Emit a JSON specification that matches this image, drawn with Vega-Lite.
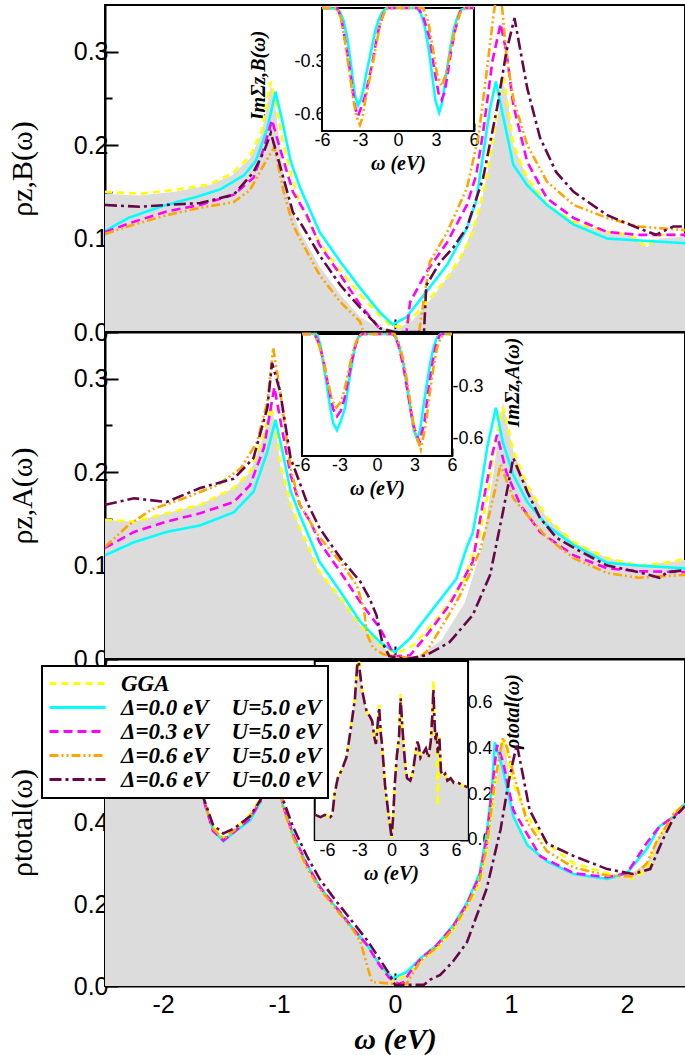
{
"$schema": "https://vega.github.io/schema/vega-lite/v6.json",
"background": "white",
"padding": {"left": 6, "top": 1, "right": 0, "bottom": 0},
"bounds": "flush",
"spacing": 0,
"config": {
  "view": {"stroke": "black", "strokeWidth": 2},
  "axis": {"grid": false, "labelColor": "black", "tickColor": "black", "domainColor": "black", "titleColor": "black", "labelFont": "Liberation Sans", "labelFlush": false, "labelOverlap": false, "labelBound": false, "zindex": 1, "tickWidth": 2, "domainWidth": 2},
  "legend": {"strokeWidth": 2}
},
"datasets": {
"zB": [
{"s":"f","w":-2.5,"r":0.148},{"s":"f","w":-2.2,"r":0.146},{"s":"f","w":-1.9,"r":0.150},{"s":"f","w":-1.6,"r":0.157},{"s":"f","w":-1.4,"r":0.168},{"s":"f","w":-1.25,"r":0.186},{"s":"f","w":-1.15,"r":0.212},{"s":"f","w":-1.1,"r":0.245},{"s":"f","w":-1.07,"r":0.265},{"s":"f","w":-1.03,"r":0.240},{"s":"f","w":-0.97,"r":0.175},{"s":"f","w":-0.9,"r":0.135},{"s":"f","w":-0.82,"r":0.108},{"s":"f","w":-0.65,"r":0.070},{"s":"f","w":-0.47,"r":0.040},{"s":"f","w":-0.3,"r":0.016},{"s":"f","w":-0.13,"r":0.004},{"s":"f","w":0,"r":0.003},{"s":"f","w":0.15,"r":0.012},{"s":"f","w":0.33,"r":0.038},{"s":"f","w":0.56,"r":0.077},{"s":"f","w":0.73,"r":0.130},{"s":"f","w":0.86,"r":0.210},{"s":"f","w":0.93,"r":0.268},{"s":"f","w":0.97,"r":0.250},{"s":"f","w":1.02,"r":0.200},{"s":"f","w":1.14,"r":0.165},{"s":"f","w":1.31,"r":0.136},{"s":"f","w":1.54,"r":0.118},{"s":"f","w":1.83,"r":0.106},{"s":"f","w":2.03,"r":0.103},{"s":"f","w":2.17,"r":0.091},{"s":"f","w":2.28,"r":0.100},{"s":"f","w":2.5,"r":0.102},
{"s":"g","w":-2.5,"r":0.150},{"s":"g","w":-2.2,"r":0.148},{"s":"g","w":-1.9,"r":0.152},{"s":"g","w":-1.6,"r":0.158},{"s":"g","w":-1.4,"r":0.170},{"s":"g","w":-1.25,"r":0.188},{"s":"g","w":-1.15,"r":0.215},{"s":"g","w":-1.1,"r":0.250},{"s":"g","w":-1.07,"r":0.268},{"s":"g","w":-1.03,"r":0.245},{"s":"g","w":-0.97,"r":0.205},{"s":"g","w":-0.9,"r":0.170},{"s":"g","w":-0.82,"r":0.137},{"s":"g","w":-0.65,"r":0.096},{"s":"g","w":-0.5,"r":0.070},{"s":"g","w":-0.3,"r":0.040},{"s":"g","w":-0.15,"r":0.020},{"s":"g","w":-0.03,"r":0.006},{"s":"g","w":0.05,"r":0.006},{"s":"g","w":0.15,"r":0.015},{"s":"g","w":0.33,"r":0.040},{"s":"g","w":0.45,"r":0.058},{"s":"g","w":0.56,"r":0.079},{"s":"g","w":0.65,"r":0.100},{"s":"g","w":0.73,"r":0.133},{"s":"g","w":0.8,"r":0.170},{"s":"g","w":0.86,"r":0.220},{"s":"g","w":0.9,"r":0.255},{"s":"g","w":0.93,"r":0.275},{"s":"g","w":0.96,"r":0.255},{"s":"g","w":1.02,"r":0.200},{"s":"g","w":1.14,"r":0.165},{"s":"g","w":1.31,"r":0.136},{"s":"g","w":1.54,"r":0.118},{"s":"g","w":1.83,"r":0.107},{"s":"g","w":2.03,"r":0.104},{"s":"g","w":2.17,"r":0.091},{"s":"g","w":2.28,"r":0.104},{"s":"g","w":2.5,"r":0.104},
{"s":"c","w":-2.5,"r":0.108},{"s":"c","w":-2.3,"r":0.122},{"s":"c","w":-2.0,"r":0.135},{"s":"c","w":-1.7,"r":0.145},{"s":"c","w":-1.5,"r":0.153},{"s":"c","w":-1.3,"r":0.168},{"s":"c","w":-1.2,"r":0.183},{"s":"c","w":-1.1,"r":0.218},{"s":"c","w":-1.03,"r":0.257},{"s":"c","w":-0.97,"r":0.225},{"s":"c","w":-0.9,"r":0.183},{"s":"c","w":-0.82,"r":0.155},{"s":"c","w":-0.65,"r":0.107},{"s":"c","w":-0.47,"r":0.075},{"s":"c","w":-0.3,"r":0.047},{"s":"c","w":-0.13,"r":0.021},{"s":"c","w":-0.02,"r":0.008},{"s":"c","w":0.1,"r":0.016},{"s":"c","w":0.27,"r":0.043},{"s":"c","w":0.45,"r":0.072},{"s":"c","w":0.62,"r":0.111},{"s":"c","w":0.7,"r":0.140},{"s":"c","w":0.76,"r":0.190},{"s":"c","w":0.82,"r":0.240},{"s":"c","w":0.87,"r":0.268},{"s":"c","w":0.93,"r":0.232},{"s":"c","w":1.02,"r":0.179},{"s":"c","w":1.14,"r":0.157},{"s":"c","w":1.31,"r":0.136},{"s":"c","w":1.54,"r":0.115},{"s":"c","w":1.83,"r":0.100},{"s":"c","w":2.1,"r":0.098},{"s":"c","w":2.5,"r":0.095},
{"s":"m","w":-2.5,"r":0.107},{"s":"m","w":-2.25,"r":0.118},{"s":"m","w":-1.97,"r":0.129},{"s":"m","w":-1.68,"r":0.136},{"s":"m","w":-1.39,"r":0.147},{"s":"m","w":-1.22,"r":0.165},{"s":"m","w":-1.13,"r":0.197},{"s":"m","w":-1.06,"r":0.227},{"s":"m","w":-1.0,"r":0.200},{"s":"m","w":-0.88,"r":0.150},{"s":"m","w":-0.76,"r":0.125},{"s":"m","w":-0.65,"r":0.093},{"s":"m","w":-0.47,"r":0.061},{"s":"m","w":-0.3,"r":0.029},{"s":"m","w":-0.16,"r":0.008},{"s":"m","w":-0.05,"r":-0.01},{"s":"m","w":0.05,"r":-0.02},{"s":"m","w":0.09,"r":-0.01},{"s":"m","w":0.13,"r":0.032},{"s":"m","w":0.27,"r":0.064},{"s":"m","w":0.45,"r":0.096},{"s":"m","w":0.62,"r":0.136},{"s":"m","w":0.7,"r":0.168},{"s":"m","w":0.76,"r":0.214},{"s":"m","w":0.84,"r":0.290},{"s":"m","w":0.91,"r":0.330},{"s":"m","w":0.96,"r":0.300},{"s":"m","w":1.02,"r":0.243},{"s":"m","w":1.14,"r":0.182},{"s":"m","w":1.31,"r":0.143},{"s":"m","w":1.54,"r":0.122},{"s":"m","w":1.83,"r":0.107},{"s":"m","w":2.1,"r":0.104},{"s":"m","w":2.5,"r":0.104},
{"s":"o","w":-2.5,"r":0.105},{"s":"o","w":-2.25,"r":0.115},{"s":"o","w":-1.97,"r":0.125},{"s":"o","w":-1.68,"r":0.133},{"s":"o","w":-1.39,"r":0.139},{"s":"o","w":-1.25,"r":0.152},{"s":"o","w":-1.13,"r":0.179},{"s":"o","w":-1.04,"r":0.198},{"s":"o","w":-0.96,"r":0.150},{"s":"o","w":-0.88,"r":0.115},{"s":"o","w":-0.82,"r":0.100},{"s":"o","w":-0.65,"r":0.061},{"s":"o","w":-0.47,"r":0.032},{"s":"o","w":-0.3,"r":0.011},{"s":"o","w":-0.25,"r":-0.01},{"s":"o","w":0.2,"r":-0.01},{"s":"o","w":0.22,"r":0.011},{"s":"o","w":0.3,"r":0.075},{"s":"o","w":0.45,"r":0.107},{"s":"o","w":0.62,"r":0.154},{"s":"o","w":0.72,"r":0.210},{"s":"o","w":0.79,"r":0.278},{"s":"o","w":0.85,"r":0.340},{"s":"o","w":0.9,"r":0.380},{"s":"o","w":0.96,"r":0.297},{"s":"o","w":1.02,"r":0.250},{"s":"o","w":1.14,"r":0.200},{"s":"o","w":1.31,"r":0.161},{"s":"o","w":1.54,"r":0.136},{"s":"o","w":1.83,"r":0.122},{"s":"o","w":2.1,"r":0.113},{"s":"o","w":2.5,"r":0.109},
{"s":"p","w":-2.5,"r":0.136},{"s":"p","w":-2.2,"r":0.134},{"s":"p","w":-1.97,"r":0.136},{"s":"p","w":-1.68,"r":0.138},{"s":"p","w":-1.39,"r":0.147},{"s":"p","w":-1.22,"r":0.171},{"s":"p","w":-1.13,"r":0.193},{"s":"p","w":-1.07,"r":0.213},{"s":"p","w":-1.0,"r":0.182},{"s":"p","w":-0.88,"r":0.128},{"s":"p","w":-0.82,"r":0.118},{"s":"p","w":-0.65,"r":0.082},{"s":"p","w":-0.47,"r":0.050},{"s":"p","w":-0.3,"r":0.026},{"s":"p","w":-0.13,"r":0.004},{"s":"p","w":0,"r":0},{"s":"p","w":0.25,"r":0},{"s":"p","w":0.27,"r":0.050},{"s":"p","w":0.39,"r":0.075},{"s":"p","w":0.5,"r":0.090},{"s":"p","w":0.62,"r":0.112},{"s":"p","w":0.76,"r":0.165},{"s":"p","w":0.88,"r":0.240},{"s":"p","w":0.96,"r":0.300},{"s":"p","w":1.03,"r":0.336},{"s":"p","w":1.14,"r":0.261},{"s":"p","w":1.25,"r":0.208},{"s":"p","w":1.39,"r":0.171},{"s":"p","w":1.54,"r":0.150},{"s":"p","w":1.83,"r":0.125},{"s":"p","w":2.1,"r":0.111},{"s":"p","w":2.25,"r":0.104},{"s":"p","w":2.4,"r":0.113},{"s":"p","w":2.5,"r":0.113}
],
"zA": [
{"s":"f","w":-2.5,"r":0.149},{"s":"f","w":-2.25,"r":0.147},{"s":"f","w":-1.97,"r":0.156},{"s":"f","w":-1.68,"r":0.165},{"s":"f","w":-1.39,"r":0.183},{"s":"f","w":-1.25,"r":0.200},{"s":"f","w":-1.13,"r":0.240},{"s":"f","w":-1.07,"r":0.270},{"s":"f","w":-1.03,"r":0.250},{"s":"f","w":-0.99,"r":0.208},{"s":"f","w":-0.9,"r":0.165},{"s":"f","w":-0.82,"r":0.140},{"s":"f","w":-0.65,"r":0.093},{"s":"f","w":-0.47,"r":0.065},{"s":"f","w":-0.3,"r":0.036},{"s":"f","w":-0.1,"r":0.012},{"s":"f","w":0,"r":0.003},{"s":"f","w":0.2,"r":0.003},{"s":"f","w":0.4,"r":0.020},{"s":"f","w":0.6,"r":0.060},{"s":"f","w":0.75,"r":0.120},{"s":"f","w":0.85,"r":0.200},{"s":"f","w":0.9,"r":0.250},{"s":"f","w":0.93,"r":0.275},{"s":"f","w":0.97,"r":0.250},{"s":"f","w":1.02,"r":0.222},{"s":"f","w":1.14,"r":0.186},{"s":"f","w":1.31,"r":0.151},{"s":"f","w":1.54,"r":0.125},{"s":"f","w":1.83,"r":0.108},{"s":"f","w":2.1,"r":0.100},{"s":"f","w":2.4,"r":0.104},{"s":"f","w":2.5,"r":0.106},
{"s":"g","w":-2.5,"r":0.149},{"s":"g","w":-2.25,"r":0.147},{"s":"g","w":-1.97,"r":0.156},{"s":"g","w":-1.68,"r":0.165},{"s":"g","w":-1.39,"r":0.183},{"s":"g","w":-1.25,"r":0.200},{"s":"g","w":-1.13,"r":0.240},{"s":"g","w":-1.07,"r":0.270},{"s":"g","w":-1.03,"r":0.250},{"s":"g","w":-0.99,"r":0.208},{"s":"g","w":-0.9,"r":0.165},{"s":"g","w":-0.82,"r":0.140},{"s":"g","w":-0.65,"r":0.093},{"s":"g","w":-0.47,"r":0.065},{"s":"g","w":-0.3,"r":0.036},{"s":"g","w":-0.1,"r":0.012},{"s":"g","w":0.02,"r":0.006},{"s":"g","w":0.16,"r":0.015},{"s":"g","w":0.39,"r":0.047},{"s":"g","w":0.59,"r":0.083},{"s":"g","w":0.73,"r":0.133},{"s":"g","w":0.8,"r":0.176},{"s":"g","w":0.86,"r":0.230},{"s":"g","w":0.93,"r":0.270},{"s":"g","w":0.97,"r":0.250},{"s":"g","w":1.02,"r":0.222},{"s":"g","w":1.14,"r":0.186},{"s":"g","w":1.31,"r":0.151},{"s":"g","w":1.54,"r":0.125},{"s":"g","w":1.83,"r":0.108},{"s":"g","w":2.1,"r":0.100},{"s":"g","w":2.4,"r":0.104},{"s":"g","w":2.5,"r":0.108},
{"s":"c","w":-2.5,"r":0.111},{"s":"c","w":-2.25,"r":0.125},{"s":"c","w":-1.97,"r":0.136},{"s":"c","w":-1.68,"r":0.143},{"s":"c","w":-1.39,"r":0.157},{"s":"c","w":-1.22,"r":0.179},{"s":"c","w":-1.1,"r":0.222},{"s":"c","w":-1.03,"r":0.256},{"s":"c","w":-0.97,"r":0.222},{"s":"c","w":-0.9,"r":0.180},{"s":"c","w":-0.82,"r":0.154},{"s":"c","w":-0.65,"r":0.104},{"s":"c","w":-0.47,"r":0.072},{"s":"c","w":-0.3,"r":0.040},{"s":"c","w":-0.13,"r":0.018},{"s":"c","w":0,"r":0.0075},{"s":"c","w":0.13,"r":0.022},{"s":"c","w":0.33,"r":0.054},{"s":"c","w":0.53,"r":0.086},{"s":"c","w":0.62,"r":0.120},{"s":"c","w":0.67,"r":0.135},{"s":"c","w":0.73,"r":0.175},{"s":"c","w":0.8,"r":0.230},{"s":"c","w":0.87,"r":0.269},{"s":"c","w":0.93,"r":0.232},{"s":"c","w":1.02,"r":0.197},{"s":"c","w":1.14,"r":0.168},{"s":"c","w":1.31,"r":0.143},{"s":"c","w":1.54,"r":0.122},{"s":"c","w":1.83,"r":0.103},{"s":"c","w":2.1,"r":0.100},{"s":"c","w":2.5,"r":0.097},
{"s":"m","w":-2.5,"r":0.119},{"s":"m","w":-2.25,"r":0.136},{"s":"m","w":-1.97,"r":0.147},{"s":"m","w":-1.68,"r":0.156},{"s":"m","w":-1.39,"r":0.168},{"s":"m","w":-1.25,"r":0.186},{"s":"m","w":-1.13,"r":0.226},{"s":"m","w":-1.04,"r":0.291},{"s":"m","w":-0.98,"r":0.250},{"s":"m","w":-0.9,"r":0.197},{"s":"m","w":-0.82,"r":0.165},{"s":"m","w":-0.73,"r":0.147},{"s":"m","w":-0.65,"r":0.125},{"s":"m","w":-0.47,"r":0.093},{"s":"m","w":-0.3,"r":0.061},{"s":"m","w":-0.13,"r":0.033},{"s":"m","w":-0.04,"r":0.012},{"s":"m","w":0,"r":0.003},{"s":"m","w":0.13,"r":0.004},{"s":"m","w":0.27,"r":0.025},{"s":"m","w":0.47,"r":0.058},{"s":"m","w":0.67,"r":0.104},{"s":"m","w":0.76,"r":0.168},{"s":"m","w":0.84,"r":0.220},{"s":"m","w":0.88,"r":0.240},{"s":"m","w":0.96,"r":0.200},{"s":"m","w":1.08,"r":0.165},{"s":"m","w":1.25,"r":0.136},{"s":"m","w":1.54,"r":0.111},{"s":"m","w":1.83,"r":0.097},{"s":"m","w":2.1,"r":0.094},{"s":"m","w":2.5,"r":0.093},
{"s":"o","w":-2.5,"r":0.120},{"s":"o","w":-2.3,"r":0.143},{"s":"o","w":-2.1,"r":0.160},{"s":"o","w":-1.82,"r":0.172},{"s":"o","w":-1.53,"r":0.186},{"s":"o","w":-1.33,"r":0.204},{"s":"o","w":-1.19,"r":0.232},{"s":"o","w":-1.1,"r":0.275},{"s":"o","w":-1.05,"r":0.333},{"s":"o","w":-0.99,"r":0.286},{"s":"o","w":-0.9,"r":0.204},{"s":"o","w":-0.82,"r":0.165},{"s":"o","w":-0.65,"r":0.130},{"s":"o","w":-0.47,"r":0.104},{"s":"o","w":-0.33,"r":0.079},{"s":"o","w":-0.27,"r":0.054},{"s":"o","w":-0.24,"r":0.026},{"s":"o","w":-0.19,"r":0.012},{"s":"o","w":-0.1,"r":0.005},{"s":"o","w":0,"r":0.003},{"s":"o","w":0.19,"r":0.0},{"s":"o","w":0.27,"r":0.0075},{"s":"o","w":0.41,"r":0.036},{"s":"o","w":0.56,"r":0.068},{"s":"o","w":0.73,"r":0.115},{"s":"o","w":0.79,"r":0.143},{"s":"o","w":0.86,"r":0.180},{"s":"o","w":0.91,"r":0.208},{"s":"o","w":1.02,"r":0.172},{"s":"o","w":1.14,"r":0.154},{"s":"o","w":1.31,"r":0.130},{"s":"o","w":1.54,"r":0.108},{"s":"o","w":1.83,"r":0.092},{"s":"o","w":2.1,"r":0.087},{"s":"o","w":2.5,"r":0.090},
{"s":"p","w":-2.5,"r":0.165},{"s":"p","w":-2.25,"r":0.172},{"s":"p","w":-1.97,"r":0.168},{"s":"p","w":-1.68,"r":0.183},{"s":"p","w":-1.39,"r":0.193},{"s":"p","w":-1.22,"r":0.215},{"s":"p","w":-1.1,"r":0.269},{"s":"p","w":-1.06,"r":0.317},{"s":"p","w":-0.99,"r":0.286},{"s":"p","w":-0.9,"r":0.215},{"s":"p","w":-0.76,"r":0.168},{"s":"p","w":-0.65,"r":0.140},{"s":"p","w":-0.47,"r":0.108},{"s":"p","w":-0.3,"r":0.083},{"s":"p","w":-0.22,"r":0.065},{"s":"p","w":-0.16,"r":0.047},{"s":"p","w":-0.11,"r":0.018},{"s":"p","w":-0.05,"r":0.003},{"s":"p","w":0.1,"r":0.0},{"s":"p","w":0.27,"r":0.004},{"s":"p","w":0.47,"r":0.018},{"s":"p","w":0.67,"r":0.047},{"s":"p","w":0.82,"r":0.090},{"s":"p","w":0.93,"r":0.157},{"s":"p","w":1.02,"r":0.215},{"s":"p","w":1.14,"r":0.179},{"s":"p","w":1.25,"r":0.151},{"s":"p","w":1.39,"r":0.130},{"s":"p","w":1.6,"r":0.115},{"s":"p","w":1.83,"r":0.100},{"s":"p","w":2.1,"r":0.093},{"s":"p","w":2.28,"r":0.087},{"s":"p","w":2.35,"r":0.093},{"s":"p","w":2.5,"r":0.095}
],
"tot": [
{"s":"f","w":-2.5,"r":0.60},{"s":"f","w":-2.2,"r":0.58},{"s":"f","w":-1.9,"r":0.56},{"s":"f","w":-1.75,"r":0.52},{"s":"f","w":-1.65,"r":0.455},{"s":"f","w":-1.57,"r":0.38},{"s":"f","w":-1.48,"r":0.354},{"s":"f","w":-1.39,"r":0.375},{"s":"f","w":-1.25,"r":0.405},{"s":"f","w":-1.16,"r":0.45},{"s":"f","w":-1.1,"r":0.55},{"s":"f","w":-1.05,"r":0.68},{"s":"f","w":-1.0,"r":0.52},{"s":"f","w":-0.97,"r":0.44},{"s":"f","w":-0.88,"r":0.365},{"s":"f","w":-0.76,"r":0.29},{"s":"f","w":-0.65,"r":0.24},{"s":"f","w":-0.5,"r":0.186},{"s":"f","w":-0.36,"r":0.137},{"s":"f","w":-0.24,"r":0.098},{"s":"f","w":-0.13,"r":0.05},{"s":"f","w":-0.02,"r":0.012},{"s":"f","w":0.1,"r":0.026},{"s":"f","w":0.22,"r":0.06},{"s":"f","w":0.36,"r":0.09},{"s":"f","w":0.5,"r":0.136},{"s":"f","w":0.62,"r":0.19},{"s":"f","w":0.73,"r":0.25},{"s":"f","w":0.79,"r":0.33},{"s":"f","w":0.86,"r":0.48},{"s":"f","w":0.93,"r":0.60},{"s":"f","w":0.97,"r":0.55},{"s":"f","w":1.02,"r":0.42},{"s":"f","w":1.14,"r":0.345},{"s":"f","w":1.31,"r":0.305},{"s":"f","w":1.54,"r":0.274},{"s":"f","w":1.83,"r":0.262},{"s":"f","w":2.0,"r":0.27},{"s":"f","w":2.17,"r":0.30},{"s":"f","w":2.28,"r":0.37},{"s":"f","w":2.4,"r":0.414},{"s":"f","w":2.5,"r":0.446},
{"s":"g","w":-2.5,"r":0.61},{"s":"g","w":-2.2,"r":0.59},{"s":"g","w":-1.9,"r":0.57},{"s":"g","w":-1.75,"r":0.53},{"s":"g","w":-1.65,"r":0.46},{"s":"g","w":-1.57,"r":0.39},{"s":"g","w":-1.48,"r":0.362},{"s":"g","w":-1.39,"r":0.38},{"s":"g","w":-1.25,"r":0.42},{"s":"g","w":-1.16,"r":0.46},{"s":"g","w":-1.1,"r":0.56},{"s":"g","w":-1.05,"r":0.70},{"s":"g","w":-1.0,"r":0.52},{"s":"g","w":-0.97,"r":0.44},{"s":"g","w":-0.88,"r":0.365},{"s":"g","w":-0.76,"r":0.29},{"s":"g","w":-0.65,"r":0.24},{"s":"g","w":-0.5,"r":0.186},{"s":"g","w":-0.36,"r":0.138},{"s":"g","w":-0.24,"r":0.098},{"s":"g","w":-0.13,"r":0.05},{"s":"g","w":-0.02,"r":0.012},{"s":"g","w":0.1,"r":0.026},{"s":"g","w":0.22,"r":0.06},{"s":"g","w":0.36,"r":0.09},{"s":"g","w":0.5,"r":0.136},{"s":"g","w":0.62,"r":0.19},{"s":"g","w":0.73,"r":0.25},{"s":"g","w":0.79,"r":0.33},{"s":"g","w":0.86,"r":0.48},{"s":"g","w":0.93,"r":0.608},{"s":"g","w":0.97,"r":0.56},{"s":"g","w":1.02,"r":0.495},{"s":"g","w":1.14,"r":0.415},{"s":"g","w":1.31,"r":0.349},{"s":"g","w":1.54,"r":0.30},{"s":"g","w":1.83,"r":0.276},{"s":"g","w":2.05,"r":0.264},{"s":"g","w":2.17,"r":0.283},{"s":"g","w":2.25,"r":0.349},{"s":"g","w":2.4,"r":0.422},{"s":"g","w":2.5,"r":0.446},
{"s":"c","w":-2.5,"r":0.60},{"s":"c","w":-2.2,"r":0.58},{"s":"c","w":-1.9,"r":0.56},{"s":"c","w":-1.75,"r":0.52},{"s":"c","w":-1.65,"r":0.456},{"s":"c","w":-1.57,"r":0.383},{"s":"c","w":-1.48,"r":0.354},{"s":"c","w":-1.39,"r":0.375},{"s":"c","w":-1.25,"r":0.405},{"s":"c","w":-1.16,"r":0.45},{"s":"c","w":-1.1,"r":0.55},{"s":"c","w":-1.05,"r":0.68},{"s":"c","w":-1.0,"r":0.55},{"s":"c","w":-0.97,"r":0.446},{"s":"c","w":-0.88,"r":0.37},{"s":"c","w":-0.76,"r":0.298},{"s":"c","w":-0.65,"r":0.243},{"s":"c","w":-0.5,"r":0.189},{"s":"c","w":-0.36,"r":0.14},{"s":"c","w":-0.24,"r":0.10},{"s":"c","w":-0.13,"r":0.051},{"s":"c","w":-0.02,"r":0.019},{"s":"c","w":0.1,"r":0.034},{"s":"c","w":0.22,"r":0.068},{"s":"c","w":0.36,"r":0.10},{"s":"c","w":0.5,"r":0.148},{"s":"c","w":0.62,"r":0.204},{"s":"c","w":0.73,"r":0.276},{"s":"c","w":0.79,"r":0.373},{"s":"c","w":0.84,"r":0.50},{"s":"c","w":0.86,"r":0.596},{"s":"c","w":0.93,"r":0.53},{"s":"c","w":1.02,"r":0.415},{"s":"c","w":1.14,"r":0.345},{"s":"c","w":1.31,"r":0.305},{"s":"c","w":1.54,"r":0.274},{"s":"c","w":1.83,"r":0.262},{"s":"c","w":2.0,"r":0.276},{"s":"c","w":2.17,"r":0.335},{"s":"c","w":2.28,"r":0.39},{"s":"c","w":2.4,"r":0.414},{"s":"c","w":2.5,"r":0.446},
{"s":"m","w":-2.5,"r":0.60},{"s":"m","w":-2.2,"r":0.58},{"s":"m","w":-1.9,"r":0.56},{"s":"m","w":-1.75,"r":0.52},{"s":"m","w":-1.65,"r":0.455},{"s":"m","w":-1.57,"r":0.38},{"s":"m","w":-1.48,"r":0.356},{"s":"m","w":-1.39,"r":0.376},{"s":"m","w":-1.25,"r":0.41},{"s":"m","w":-1.16,"r":0.452},{"s":"m","w":-1.1,"r":0.55},{"s":"m","w":-1.05,"r":0.68},{"s":"m","w":-1.0,"r":0.54},{"s":"m","w":-0.97,"r":0.446},{"s":"m","w":-0.88,"r":0.372},{"s":"m","w":-0.76,"r":0.298},{"s":"m","w":-0.65,"r":0.243},{"s":"m","w":-0.5,"r":0.19},{"s":"m","w":-0.36,"r":0.14},{"s":"m","w":-0.24,"r":0.10},{"s":"m","w":-0.13,"r":0.05},{"s":"m","w":-0.05,"r":0.02},{"s":"m","w":0.03,"r":0.005},{"s":"m","w":0.08,"r":0.01},{"s":"m","w":0.12,"r":0.03},{"s":"m","w":0.22,"r":0.066},{"s":"m","w":0.36,"r":0.10},{"s":"m","w":0.5,"r":0.146},{"s":"m","w":0.62,"r":0.20},{"s":"m","w":0.73,"r":0.27},{"s":"m","w":0.79,"r":0.36},{"s":"m","w":0.84,"r":0.49},{"s":"m","w":0.88,"r":0.59},{"s":"m","w":0.93,"r":0.55},{"s":"m","w":1.02,"r":0.43},{"s":"m","w":1.25,"r":0.318},{"s":"m","w":1.54,"r":0.276},{"s":"m","w":1.83,"r":0.266},{"s":"m","w":2.0,"r":0.276},{"s":"m","w":2.17,"r":0.35},{"s":"m","w":2.28,"r":0.39},{"s":"m","w":2.4,"r":0.414},{"s":"m","w":2.5,"r":0.44},
{"s":"o","w":-2.5,"r":0.60},{"s":"o","w":-2.2,"r":0.58},{"s":"o","w":-1.9,"r":0.56},{"s":"o","w":-1.75,"r":0.52},{"s":"o","w":-1.65,"r":0.458},{"s":"o","w":-1.57,"r":0.385},{"s":"o","w":-1.48,"r":0.36},{"s":"o","w":-1.39,"r":0.38},{"s":"o","w":-1.25,"r":0.415},{"s":"o","w":-1.16,"r":0.456},{"s":"o","w":-1.1,"r":0.56},{"s":"o","w":-1.05,"r":0.70},{"s":"o","w":-1.0,"r":0.53},{"s":"o","w":-0.97,"r":0.44},{"s":"o","w":-0.88,"r":0.365},{"s":"o","w":-0.76,"r":0.29},{"s":"o","w":-0.65,"r":0.238},{"s":"o","w":-0.5,"r":0.185},{"s":"o","w":-0.36,"r":0.137},{"s":"o","w":-0.3,"r":0.11},{"s":"o","w":-0.24,"r":0.05},{"s":"o","w":-0.2,"r":0.01},{"s":"o","w":0,"r":0.005},{"s":"o","w":0.1,"r":0.005},{"s":"o","w":0.15,"r":0.03},{"s":"o","w":0.22,"r":0.062},{"s":"o","w":0.36,"r":0.095},{"s":"o","w":0.5,"r":0.14},{"s":"o","w":0.62,"r":0.195},{"s":"o","w":0.73,"r":0.26},{"s":"o","w":0.79,"r":0.34},{"s":"o","w":0.86,"r":0.50},{"s":"o","w":0.93,"r":0.608},{"s":"o","w":0.97,"r":0.58},{"s":"o","w":1.02,"r":0.52},{"s":"o","w":1.14,"r":0.40},{"s":"o","w":1.31,"r":0.33},{"s":"o","w":1.54,"r":0.29},{"s":"o","w":1.83,"r":0.27},{"s":"o","w":2.05,"r":0.268},{"s":"o","w":2.17,"r":0.30},{"s":"o","w":2.25,"r":0.35},{"s":"o","w":2.4,"r":0.42},{"s":"o","w":2.5,"r":0.446},
{"s":"p","w":-2.5,"r":0.59},{"s":"p","w":-2.2,"r":0.575},{"s":"p","w":-1.9,"r":0.555},{"s":"p","w":-1.75,"r":0.52},{"s":"p","w":-1.65,"r":0.46},{"s":"p","w":-1.57,"r":0.395},{"s":"p","w":-1.48,"r":0.373},{"s":"p","w":-1.39,"r":0.385},{"s":"p","w":-1.25,"r":0.415},{"s":"p","w":-1.16,"r":0.455},{"s":"p","w":-1.1,"r":0.54},{"s":"p","w":-1.05,"r":0.66},{"s":"p","w":-1.0,"r":0.55},{"s":"p","w":-0.97,"r":0.46},{"s":"p","w":-0.88,"r":0.39},{"s":"p","w":-0.76,"r":0.318},{"s":"p","w":-0.65,"r":0.262},{"s":"p","w":-0.5,"r":0.205},{"s":"p","w":-0.36,"r":0.155},{"s":"p","w":-0.24,"r":0.112},{"s":"p","w":-0.13,"r":0.065},{"s":"p","w":-0.05,"r":0.03},{"s":"p","w":0,"r":0.003},{"s":"p","w":0.25,"r":0.003},{"s":"p","w":0.3,"r":0.015},{"s":"p","w":0.39,"r":0.027},{"s":"p","w":0.5,"r":0.06},{"s":"p","w":0.62,"r":0.107},{"s":"p","w":0.79,"r":0.238},{"s":"p","w":0.91,"r":0.383},{"s":"p","w":0.98,"r":0.50},{"s":"p","w":1.05,"r":0.592},{"s":"p","w":1.1,"r":0.52},{"s":"p","w":1.16,"r":0.431},{"s":"p","w":1.31,"r":0.349},{"s":"p","w":1.54,"r":0.318},{"s":"p","w":1.83,"r":0.286},{"s":"p","w":2.05,"r":0.274},{"s":"p","w":2.2,"r":0.286},{"s":"p","w":2.31,"r":0.359},{"s":"p","w":2.4,"r":0.41},{"s":"p","w":2.5,"r":0.44}
],
"sB": [
{"s":"c","w":-6,"v":0},{"s":"c","w":-5,"v":-0.003},{"s":"c","w":-4.6,"v":-0.02},{"s":"c","w":-4.3,"v":-0.07},{"s":"c","w":-4.0,"v":-0.17},{"s":"c","w":-3.8,"v":-0.27},{"s":"c","w":-3.6,"v":-0.38},{"s":"c","w":-3.4,"v":-0.49},{"s":"c","w":-3.15,"v":-0.55},{"s":"c","w":-2.9,"v":-0.51},{"s":"c","w":-2.7,"v":-0.45},{"s":"c","w":-2.5,"v":-0.37},{"s":"c","w":-2.2,"v":-0.27},{"s":"c","w":-2.0,"v":-0.20},{"s":"c","w":-1.8,"v":-0.13},{"s":"c","w":-1.5,"v":-0.06},{"s":"c","w":-1.2,"v":-0.02},{"s":"c","w":-0.9,"v":0},{"s":"c","w":1.5,"v":0},{"s":"c","w":1.8,"v":-0.03},{"s":"c","w":2.1,"v":-0.10},{"s":"c","w":2.4,"v":-0.22},{"s":"c","w":2.7,"v":-0.38},{"s":"c","w":2.95,"v":-0.52},{"s":"c","w":3.25,"v":-0.59},{"s":"c","w":3.5,"v":-0.53},{"s":"c","w":3.8,"v":-0.38},{"s":"c","w":4.1,"v":-0.24},{"s":"c","w":4.4,"v":-0.12},{"s":"c","w":4.7,"v":-0.05},{"s":"c","w":5.0,"v":-0.01},{"s":"c","w":5.3,"v":0},{"s":"c","w":6,"v":0},
{"s":"m","w":-6,"v":0},{"s":"m","w":-4.8,"v":0},{"s":"m","w":-4.5,"v":-0.05},{"s":"m","w":-4.2,"v":-0.17},{"s":"m","w":-3.9,"v":-0.30},{"s":"m","w":-3.6,"v":-0.45},{"s":"m","w":-3.35,"v":-0.57},{"s":"m","w":-3.15,"v":-0.61},{"s":"m","w":-2.9,"v":-0.56},{"s":"m","w":-2.6,"v":-0.50},{"s":"m","w":-2.3,"v":-0.40},{"s":"m","w":-2.05,"v":-0.32},{"s":"m","w":-1.8,"v":-0.22},{"s":"m","w":-1.56,"v":-0.13},{"s":"m","w":-1.2,"v":-0.04},{"s":"m","w":-0.9,"v":0},{"s":"m","w":1.6,"v":0},{"s":"m","w":2.0,"v":-0.05},{"s":"m","w":2.5,"v":-0.17},{"s":"m","w":2.9,"v":-0.36},{"s":"m","w":3.2,"v":-0.48},{"s":"m","w":3.45,"v":-0.52},{"s":"m","w":3.7,"v":-0.47},{"s":"m","w":3.95,"v":-0.36},{"s":"m","w":4.2,"v":-0.24},{"s":"m","w":4.5,"v":-0.13},{"s":"m","w":4.9,"v":-0.02},{"s":"m","w":5.2,"v":0},{"s":"m","w":6,"v":0},
{"s":"o","w":-6,"v":0},{"s":"o","w":-4.8,"v":0},{"s":"o","w":-4.5,"v":-0.06},{"s":"o","w":-4.2,"v":-0.18},{"s":"o","w":-3.9,"v":-0.33},{"s":"o","w":-3.6,"v":-0.48},{"s":"o","w":-3.3,"v":-0.61},{"s":"o","w":-3.0,"v":-0.66},{"s":"o","w":-2.8,"v":-0.62},{"s":"o","w":-2.6,"v":-0.53},{"s":"o","w":-2.3,"v":-0.42},{"s":"o","w":-2.0,"v":-0.32},{"s":"o","w":-1.7,"v":-0.20},{"s":"o","w":-1.4,"v":-0.09},{"s":"o","w":-1.0,"v":-0.01},{"s":"o","w":-0.8,"v":0},{"s":"o","w":2.0,"v":0},{"s":"o","w":2.4,"v":-0.08},{"s":"o","w":2.8,"v":-0.25},{"s":"o","w":3.1,"v":-0.38},{"s":"o","w":3.45,"v":-0.44},{"s":"o","w":3.8,"v":-0.37},{"s":"o","w":4.1,"v":-0.26},{"s":"o","w":4.5,"v":-0.12},{"s":"o","w":4.9,"v":-0.03},{"s":"o","w":5.3,"v":0},{"s":"o","w":6,"v":0}
],
"sA": [
{"s":"c","w":-6,"v":0},{"s":"c","w":-4.8,"v":0},{"s":"c","w":-4.5,"v":-0.07},{"s":"c","w":-4.3,"v":-0.17},{"s":"c","w":-4.0,"v":-0.30},{"s":"c","w":-3.75,"v":-0.42},{"s":"c","w":-3.5,"v":-0.51},{"s":"c","w":-3.2,"v":-0.55},{"s":"c","w":-2.9,"v":-0.50},{"s":"c","w":-2.55,"v":-0.42},{"s":"c","w":-2.3,"v":-0.30},{"s":"c","w":-2.0,"v":-0.17},{"s":"c","w":-1.75,"v":-0.07},{"s":"c","w":-1.5,"v":-0.02},{"s":"c","w":-1.2,"v":0},{"s":"c","w":1.3,"v":0},{"s":"c","w":1.7,"v":-0.05},{"s":"c","w":2.1,"v":-0.17},{"s":"c","w":2.4,"v":-0.30},{"s":"c","w":2.65,"v":-0.42},{"s":"c","w":2.95,"v":-0.55},{"s":"c","w":3.2,"v":-0.60},{"s":"c","w":3.45,"v":-0.55},{"s":"c","w":3.7,"v":-0.42},{"s":"c","w":4.0,"v":-0.28},{"s":"c","w":4.25,"v":-0.17},{"s":"c","w":4.55,"v":-0.07},{"s":"c","w":4.8,"v":-0.02},{"s":"c","w":5.1,"v":0},{"s":"c","w":6,"v":0},
{"s":"m","w":-6,"v":0},{"s":"m","w":-5.0,"v":0},{"s":"m","w":-4.6,"v":-0.06},{"s":"m","w":-4.2,"v":-0.18},{"s":"m","w":-3.9,"v":-0.30},{"s":"m","w":-3.5,"v":-0.43},{"s":"m","w":-3.2,"v":-0.47},{"s":"m","w":-2.9,"v":-0.44},{"s":"m","w":-2.6,"v":-0.37},{"s":"m","w":-2.3,"v":-0.26},{"s":"m","w":-2.0,"v":-0.15},{"s":"m","w":-1.7,"v":-0.06},{"s":"m","w":-1.4,"v":-0.01},{"s":"m","w":-1.1,"v":0},{"s":"m","w":1.3,"v":0},{"s":"m","w":1.7,"v":-0.06},{"s":"m","w":2.1,"v":-0.18},{"s":"m","w":2.5,"v":-0.35},{"s":"m","w":2.9,"v":-0.52},{"s":"m","w":3.4,"v":-0.62},{"s":"m","w":3.8,"v":-0.50},{"s":"m","w":4.1,"v":-0.33},{"s":"m","w":4.4,"v":-0.18},{"s":"m","w":4.7,"v":-0.07},{"s":"m","w":5.0,"v":-0.01},{"s":"m","w":5.3,"v":0},{"s":"m","w":6,"v":0},
{"s":"o","w":-6,"v":0},{"s":"o","w":-5.0,"v":0},{"s":"o","w":-4.7,"v":-0.05},{"s":"o","w":-4.3,"v":-0.15},{"s":"o","w":-3.9,"v":-0.28},{"s":"o","w":-3.6,"v":-0.38},{"s":"o","w":-3.25,"v":-0.42},{"s":"o","w":-2.9,"v":-0.39},{"s":"o","w":-2.6,"v":-0.32},{"s":"o","w":-2.3,"v":-0.22},{"s":"o","w":-2.0,"v":-0.12},{"s":"o","w":-1.7,"v":-0.05},{"s":"o","w":-1.4,"v":-0.01},{"s":"o","w":-1.1,"v":0},{"s":"o","w":1.4,"v":0},{"s":"o","w":1.8,"v":-0.06},{"s":"o","w":2.2,"v":-0.18},{"s":"o","w":2.6,"v":-0.36},{"s":"o","w":3.0,"v":-0.55},{"s":"o","w":3.5,"v":-0.66},{"s":"o","w":3.9,"v":-0.52},{"s":"o","w":4.2,"v":-0.35},{"s":"o","w":4.5,"v":-0.20},{"s":"o","w":4.8,"v":-0.08},{"s":"o","w":5.1,"v":-0.02},{"s":"o","w":5.4,"v":0},{"s":"o","w":6,"v":0}
],
"itot": [
{"s":"f","w":-7.1,"v":0.11},{"s":"f","w":-6.6,"v":0.10},{"s":"f","w":-6.2,"v":0.11},{"s":"f","w":-5.7,"v":0.10},{"s":"f","w":-5.5,"v":0.11},{"s":"f","w":-5.3,"v":0.20},{"s":"f","w":-5.0,"v":0.27},{"s":"f","w":-4.6,"v":0.31},{"s":"f","w":-4.2,"v":0.36},{"s":"f","w":-3.9,"v":0.45},{"s":"f","w":-3.6,"v":0.55},{"s":"f","w":-3.4,"v":0.62},{"s":"f","w":-3.2,"v":0.76},{"s":"f","w":-3.05,"v":0.78},{"s":"f","w":-2.9,"v":0.72},{"s":"f","w":-2.75,"v":0.66},{"s":"f","w":-2.5,"v":0.60},{"s":"f","w":-2.3,"v":0.56},{"s":"f","w":-2.0,"v":0.54},{"s":"f","w":-1.8,"v":0.52},{"s":"f","w":-1.6,"v":0.45},{"s":"f","w":-1.45,"v":0.42},{"s":"f","w":-1.3,"v":0.50},{"s":"f","w":-1.15,"v":0.58},{"s":"f","w":-1.0,"v":0.47},{"s":"f","w":-0.85,"v":0.40},{"s":"f","w":-0.6,"v":0.24},{"s":"f","w":-0.3,"v":0.12},{"s":"f","w":-0.1,"v":0.05},{"s":"f","w":0,"v":0.01},{"s":"f","w":0.15,"v":0.10},{"s":"f","w":0.3,"v":0.24},{"s":"f","w":0.5,"v":0.37},{"s":"f","w":0.7,"v":0.45},{"s":"f","w":0.85,"v":0.62},{"s":"f","w":1.0,"v":0.50},{"s":"f","w":1.15,"v":0.40},{"s":"f","w":1.3,"v":0.32},{"s":"f","w":1.45,"v":0.27},{"s":"f","w":1.75,"v":0.26},{"s":"f","w":2.0,"v":0.30},{"s":"f","w":2.2,"v":0.37},{"s":"f","w":2.4,"v":0.43},{"s":"f","w":2.55,"v":0.41},{"s":"f","w":2.7,"v":0.36},{"s":"f","w":2.95,"v":0.38},{"s":"f","w":3.2,"v":0.40},{"s":"f","w":3.45,"v":0.36},{"s":"f","w":3.65,"v":0.43},{"s":"f","w":3.8,"v":0.55},{"s":"f","w":3.9,"v":0.66},{"s":"f","w":4.0,"v":0.52},{"s":"f","w":4.1,"v":0.43},{"s":"f","w":4.2,"v":0.47},{"s":"f","w":4.3,"v":0.38},{"s":"f","w":4.45,"v":0.45},{"s":"f","w":4.6,"v":0.30},{"s":"f","w":4.8,"v":0.28},{"s":"f","w":5.0,"v":0.29},{"s":"f","w":5.2,"v":0.26},{"s":"f","w":5.5,"v":0.27},{"s":"f","w":5.8,"v":0.25},{"s":"f","w":6.2,"v":0.25},{"s":"f","w":6.6,"v":0.24},{"s":"f","w":7.1,"v":0.23},
{"s":"g","w":-7.1,"v":0.11},{"s":"g","w":-6.6,"v":0.10},{"s":"g","w":-6.2,"v":0.11},{"s":"g","w":-5.7,"v":0.10},{"s":"g","w":-5.5,"v":0.11},{"s":"g","w":-5.3,"v":0.20},{"s":"g","w":-5.0,"v":0.27},{"s":"g","w":-4.6,"v":0.31},{"s":"g","w":-4.2,"v":0.36},{"s":"g","w":-3.9,"v":0.45},{"s":"g","w":-3.6,"v":0.55},{"s":"g","w":-3.4,"v":0.62},{"s":"g","w":-3.2,"v":0.76},{"s":"g","w":-3.05,"v":0.79},{"s":"g","w":-2.9,"v":0.72},{"s":"g","w":-2.75,"v":0.66},{"s":"g","w":-2.5,"v":0.60},{"s":"g","w":-2.3,"v":0.56},{"s":"g","w":-2.0,"v":0.54},{"s":"g","w":-1.8,"v":0.52},{"s":"g","w":-1.6,"v":0.45},{"s":"g","w":-1.45,"v":0.42},{"s":"g","w":-1.3,"v":0.50},{"s":"g","w":-1.15,"v":0.59},{"s":"g","w":-1.0,"v":0.47},{"s":"g","w":-0.85,"v":0.40},{"s":"g","w":-0.6,"v":0.24},{"s":"g","w":-0.3,"v":0.12},{"s":"g","w":-0.1,"v":0.05},{"s":"g","w":0,"v":0.01},{"s":"g","w":0.15,"v":0.10},{"s":"g","w":0.3,"v":0.24},{"s":"g","w":0.5,"v":0.37},{"s":"g","w":0.7,"v":0.45},{"s":"g","w":0.85,"v":0.64},{"s":"g","w":1.0,"v":0.50},{"s":"g","w":1.15,"v":0.40},{"s":"g","w":1.3,"v":0.32},{"s":"g","w":1.45,"v":0.27},{"s":"g","w":1.75,"v":0.26},{"s":"g","w":2.0,"v":0.30},{"s":"g","w":2.2,"v":0.37},{"s":"g","w":2.4,"v":0.43},{"s":"g","w":2.55,"v":0.41},{"s":"g","w":2.7,"v":0.36},{"s":"g","w":2.95,"v":0.38},{"s":"g","w":3.2,"v":0.40},{"s":"g","w":3.45,"v":0.36},{"s":"g","w":3.65,"v":0.43},{"s":"g","w":3.8,"v":0.56},{"s":"g","w":3.9,"v":0.70},{"s":"g","w":4.0,"v":0.52},{"s":"g","w":4.1,"v":0.43},{"s":"g","w":4.2,"v":0.47},{"s":"g","w":4.3,"v":0.15},{"s":"g","w":4.45,"v":0.45},{"s":"g","w":4.6,"v":0.28},{"s":"g","w":4.8,"v":0.28},{"s":"g","w":5.0,"v":0.29},{"s":"g","w":5.2,"v":0.26},{"s":"g","w":5.5,"v":0.27},{"s":"g","w":5.8,"v":0.25},{"s":"g","w":6.2,"v":0.25},{"s":"g","w":6.6,"v":0.24},{"s":"g","w":7.1,"v":0.23},
{"s":"p","w":-7.1,"v":0.11},{"s":"p","w":-6.6,"v":0.10},{"s":"p","w":-6.2,"v":0.11},{"s":"p","w":-5.7,"v":0.10},{"s":"p","w":-5.5,"v":0.11},{"s":"p","w":-5.3,"v":0.20},{"s":"p","w":-5.0,"v":0.27},{"s":"p","w":-4.6,"v":0.31},{"s":"p","w":-4.2,"v":0.36},{"s":"p","w":-3.9,"v":0.45},{"s":"p","w":-3.6,"v":0.55},{"s":"p","w":-3.4,"v":0.62},{"s":"p","w":-3.2,"v":0.76},{"s":"p","w":-3.05,"v":0.78},{"s":"p","w":-2.9,"v":0.72},{"s":"p","w":-2.75,"v":0.66},{"s":"p","w":-2.5,"v":0.60},{"s":"p","w":-2.3,"v":0.56},{"s":"p","w":-2.0,"v":0.54},{"s":"p","w":-1.8,"v":0.52},{"s":"p","w":-1.6,"v":0.45},{"s":"p","w":-1.45,"v":0.42},{"s":"p","w":-1.3,"v":0.50},{"s":"p","w":-1.15,"v":0.58},{"s":"p","w":-1.0,"v":0.47},{"s":"p","w":-0.85,"v":0.40},{"s":"p","w":-0.6,"v":0.24},{"s":"p","w":-0.3,"v":0.12},{"s":"p","w":-0.1,"v":0.05},{"s":"p","w":0,"v":0.01},{"s":"p","w":0.15,"v":0.10},{"s":"p","w":0.3,"v":0.24},{"s":"p","w":0.5,"v":0.37},{"s":"p","w":0.7,"v":0.45},{"s":"p","w":0.85,"v":0.62},{"s":"p","w":1.0,"v":0.50},{"s":"p","w":1.15,"v":0.40},{"s":"p","w":1.3,"v":0.32},{"s":"p","w":1.45,"v":0.27},{"s":"p","w":1.75,"v":0.26},{"s":"p","w":2.0,"v":0.30},{"s":"p","w":2.2,"v":0.37},{"s":"p","w":2.4,"v":0.43},{"s":"p","w":2.55,"v":0.41},{"s":"p","w":2.7,"v":0.36},{"s":"p","w":2.95,"v":0.38},{"s":"p","w":3.2,"v":0.40},{"s":"p","w":3.45,"v":0.36},{"s":"p","w":3.65,"v":0.43},{"s":"p","w":3.8,"v":0.55},{"s":"p","w":3.9,"v":0.66},{"s":"p","w":4.0,"v":0.52},{"s":"p","w":4.1,"v":0.43},{"s":"p","w":4.2,"v":0.47},{"s":"p","w":4.3,"v":0.38},{"s":"p","w":4.45,"v":0.45},{"s":"p","w":4.6,"v":0.30},{"s":"p","w":4.8,"v":0.28},{"s":"p","w":5.0,"v":0.29},{"s":"p","w":5.2,"v":0.26},{"s":"p","w":5.5,"v":0.27},{"s":"p","w":5.8,"v":0.25},{"s":"p","w":6.2,"v":0.25},{"s":"p","w":6.6,"v":0.24},{"s":"p","w":7.1,"v":0.23}
]
},
"resolve": {"scale": {"color": "independent", "strokeDash": "independent"}},
"vconcat": [
{
  "width": 580, "height": 327,
  "resolve": {"scale": {"x": "independent", "y": "independent"}},
  "layer": [
    {
      "data": {"name": "zB"},
      "layer": [
        {"transform": [{"filter": "datum.s=='f'"}],
         "mark": {"type": "area", "color": "#dcdcdc", "clip": true},
         "encoding": {
           "x": {"field": "w", "type": "quantitative", "scale": {"domain": [-2.5, 2.5], "nice": false, "zero": false},
                 "axis": {"orient": "bottom", "values": [-2,-1.5,-1,-0.5,0,0.5,1,1.5,2], "labels": false, "title": null,
                          "tickSize": {"condition": {"test": "datum.value % 1 == 0", "value": -13}, "value": -7}}},
           "y": {"field": "r", "type": "quantitative", "scale": {"domain": [0, 0.35], "nice": false},
                 "axis": {"orient": "left", "values": [0,0.05,0.1,0.15,0.2,0.25,0.3], "format": ".1f",
                          "labelExpr": "round(datum.value*100) % 10 == 0 ? datum.label : ''",
                          "tickSize": {"condition": {"test": "round(datum.value*100) % 10 == 0", "value": -13}, "value": -7},
                          "labelFontSize": 25, "labelPadding": 10, "title": "ρz,B(ω)", "titleFont": "Liberation Serif", "titleFontSize": 30, "titleFontWeight": "normal", "titlePadding": 36}}
         }},
        {"transform": [{"filter": "datum.s!='f'"}],
         "mark": {"type": "line", "strokeWidth": 2.6, "clip": true},
         "encoding": {
           "x": {"field": "w", "type": "quantitative"},
           "y": {"field": "r", "type": "quantitative"},
           "color": {"field": "s", "type": "nominal", "scale": {"domain": ["g","c","m","o","p"], "range": ["#ffff00","#00ffff","#ff00ff","#ffa500","#670748"]}, "legend": null},
           "strokeDash": {"field": "s", "type": "nominal", "scale": {"domain": ["g","c","m","o","p"], "range": [[7,5],[1,0],[9,5],[9,3,2,3,2,3],[12,4,3,4]]}, "legend": null}
         }}
      ]
    },
    {
      "layer": [
        {"data": {"values": [{"box": 1}]},
         "mark": {"type": "rect", "fill": "white", "stroke": "black", "strokeWidth": 2},
         "encoding": {
           "x": {"datum": -6, "type": "quantitative", "scale": {"domain": [-23.13, 22.66], "nice": false, "zero": false},
                 "axis": {"orient": "bottom", "offset": -201, "domain": false, "values": [-6,-4.5,-3,-1.5,0,1.5,3,4.5,6], "format": "d",
                          "labelExpr": "datum.value % 3 == 0 ? replace(datum.label, '\u2212', '-') : ''",
                          "tickSize": {"condition": {"test": "datum.value % 3 == 0", "value": -8}, "value": -5},
                          "labelFontSize": 18, "labelPadding": 8, "title": "ω (eV)", "titleFont": "Liberation Serif", "titleFontSize": 20, "titleFontWeight": "bold", "titleFontStyle": "italic",
                          "titleX": 293, "titleY": 32, "titleBaseline": "middle", "titleAlign": "center"}},
           "x2": {"datum": 6},
           "y": {"datum": 0, "type": "quantitative", "scale": {"domain": [-1.83, 0.017], "nice": false, "zero": false},
                 "axis": {"orient": "left", "offset": -217, "domain": false, "values": [-0.6,-0.45,-0.3,-0.15], "format": ".1f",
                          "labelExpr": "round(datum.value*100) % 30 == 0 ? replace(datum.label, '\u2212', '-') : ''",
                          "tickSize": {"condition": {"test": "round(datum.value*100) % 30 == 0", "value": -8}, "value": -5},
                          "labelFontSize": 18, "labelPadding": 5, "title": "ImΣz,B(ω)", "titleFont": "Liberation Serif", "titleFontSize": 20, "titleFontWeight": "bold", "titleFontStyle": "italic",
                          "titleX": -64, "titleY": 70, "titleAngle": 270, "titleBaseline": "middle", "titleAlign": "center"}},
           "y2": {"datum": -0.695}
         }},
        {"data": {"name": "sB"},
         "mark": {"type": "line", "strokeWidth": 2.6},
         "encoding": {
           "x": {"field": "w", "type": "quantitative"},
           "y": {"field": "v", "type": "quantitative"},
           "color": {"field": "s", "type": "nominal", "scale": {"domain": ["g","c","m","o","p"], "range": ["#ffff00","#00ffff","#ff00ff","#ffa500","#670748"]}, "legend": null},
           "strokeDash": {"field": "s", "type": "nominal", "scale": {"domain": ["g","c","m","o","p"], "range": [[7,5],[1,0],[9,5],[9,3,2,3,2,3],[12,4,3,4]]}, "legend": null}
         }}
      ]
    }
  ]
},
{
  "width": 580, "height": 327,
  "resolve": {"scale": {"x": "independent", "y": "independent"}},
  "layer": [
    {
      "data": {"name": "zA"},
      "layer": [
        {"transform": [{"filter": "datum.s=='f'"}],
         "mark": {"type": "area", "color": "#dcdcdc", "clip": true},
         "encoding": {
           "x": {"field": "w", "type": "quantitative", "scale": {"domain": [-2.5, 2.5], "nice": false, "zero": false},
                 "axis": {"orient": "bottom", "values": [-2,-1.5,-1,-0.5,0,0.5,1,1.5,2], "labels": false, "title": null,
                          "tickSize": {"condition": {"test": "datum.value % 1 == 0", "value": -13}, "value": -7}}},
           "y": {"field": "r", "type": "quantitative", "scale": {"domain": [0, 0.35], "nice": false},
                 "axis": {"orient": "left", "values": [0,0.05,0.1,0.15,0.2,0.25,0.3], "format": ".1f",
                          "labelExpr": "round(datum.value*100) % 10 == 0 ? datum.label : ''",
                          "tickSize": {"condition": {"test": "round(datum.value*100) % 10 == 0", "value": -13}, "value": -7},
                          "labelFontSize": 25, "labelPadding": 10, "title": "ρz,A(ω)", "titleFont": "Liberation Serif", "titleFontSize": 30, "titleFontWeight": "normal", "titlePadding": 36}}
         }},
        {"transform": [{"filter": "datum.s!='f'"}],
         "mark": {"type": "line", "strokeWidth": 2.6, "clip": true},
         "encoding": {
           "x": {"field": "w", "type": "quantitative"},
           "y": {"field": "r", "type": "quantitative"},
           "color": {"field": "s", "type": "nominal", "scale": {"domain": ["g","c","m","o","p"], "range": ["#ffff00","#00ffff","#ff00ff","#ffa500","#670748"]}, "legend": null},
           "strokeDash": {"field": "s", "type": "nominal", "scale": {"domain": ["g","c","m","o","p"], "range": [[7,5],[1,0],[9,5],[9,3,2,3,2,3],[12,4,3,4]]}, "legend": null}
         }}
      ]
    },
    {
      "layer": [
        {"data": {"values": [{"box": 1}]},
         "mark": {"type": "rect", "fill": "white", "stroke": "black", "strokeWidth": 2},
         "encoding": {
           "x": {"datum": -6, "type": "quantitative", "scale": {"domain": [-21.76, 24.64], "nice": false, "zero": false},
                 "axis": {"orient": "bottom", "offset": -203, "domain": false, "values": [-6,-4.5,-3,-1.5,0,1.5,3,4.5,6], "format": "d",
                          "labelExpr": "datum.value % 3 == 0 ? replace(datum.label, '\u2212', '-') : ''",
                          "tickSize": {"condition": {"test": "datum.value % 3 == 0", "value": -8}, "value": -5},
                          "labelFontSize": 18, "labelPadding": 8, "title": "ω (eV)", "titleFont": "Liberation Serif", "titleFontSize": 20, "titleFontWeight": "bold", "titleFontStyle": "italic",
                          "titleX": 272, "titleY": 32, "titleBaseline": "middle", "titleAlign": "center"}},
           "x2": {"datum": 6},
           "y": {"datum": 0, "type": "quantitative", "scale": {"domain": [-1.857, 0.011], "nice": false, "zero": false},
                 "axis": {"orient": "right", "offset": -233, "domain": false, "values": [-0.6,-0.45,-0.3,-0.15], "format": ".1f",
                          "labelExpr": "round(datum.value*100) % 30 == 0 ? replace(datum.label, '\u2212', '-') : ''",
                          "tickSize": {"condition": {"test": "round(datum.value*100) % 30 == 0", "value": -8}, "value": -5},
                          "labelFontSize": 18, "labelPadding": 8, "title": "ImΣz,A(ω)", "titleFont": "Liberation Serif", "titleFontSize": 20, "titleFontWeight": "bold", "titleFontStyle": "italic",
                          "titleX": 60, "titleY": 50, "titleAngle": 270, "titleBaseline": "middle", "titleAlign": "center"}},
           "y2": {"datum": -0.697}
         }},
        {"data": {"name": "sA"},
         "mark": {"type": "line", "strokeWidth": 2.6},
         "encoding": {
           "x": {"field": "w", "type": "quantitative"},
           "y": {"field": "v", "type": "quantitative"},
           "color": {"field": "s", "type": "nominal", "scale": {"domain": ["g","c","m","o","p"], "range": ["#ffff00","#00ffff","#ff00ff","#ffa500","#670748"]}, "legend": null},
           "strokeDash": {"field": "s", "type": "nominal", "scale": {"domain": ["g","c","m","o","p"], "range": [[7,5],[1,0],[9,5],[9,3,2,3,2,3],[12,4,3,4]]}, "legend": null}
         }}
      ]
    }
  ]
},
{
  "width": 580, "height": 327,
  "resolve": {"scale": {"x": "independent", "y": "independent"}},
  "layer": [
    {
      "data": {"name": "tot"},
      "layer": [
        {"transform": [{"filter": "datum.s=='f'"}],
         "mark": {"type": "area", "color": "#dcdcdc", "clip": true},
         "encoding": {
           "x": {"field": "w", "type": "quantitative", "scale": {"domain": [-2.5, 2.5], "nice": false, "zero": false},
                 "axis": {"orient": "bottom", "values": [-2,-1.5,-1,-0.5,0,0.5,1,1.5,2], "format": "d",
                          "labelExpr": "datum.value % 1 == 0 ? replace(datum.label, '\u2212', '-') : ''",
                          "tickSize": {"condition": {"test": "datum.value % 1 == 0", "value": -13}, "value": -7},
                          "labelFontSize": 25, "labelPadding": 19, "title": "ω (eV)", "titleFont": "Liberation Serif", "titleFontSize": 30, "titleFontWeight": "bold", "titleFontStyle": "italic", "titlePadding": 7}},
           "y": {"field": "r", "type": "quantitative", "scale": {"domain": [0, 0.8], "nice": false},
                 "axis": {"orient": "left", "values": [0,0.1,0.2,0.3,0.4,0.5,0.6,0.7], "format": ".1f",
                          "labelExpr": "round(datum.value*10) % 2 == 0 ? datum.label : ''",
                          "tickSize": {"condition": {"test": "round(datum.value*10) % 2 == 0", "value": -13}, "value": -7},
                          "labelFontSize": 25, "labelPadding": 10, "title": "ρtotal(ω)", "titleFont": "Liberation Serif", "titleFontSize": 30, "titleFontWeight": "normal", "titlePadding": 36}}
         }},
        {"transform": [{"filter": "datum.s!='f'"}],
         "mark": {"type": "line", "strokeWidth": 2.6, "clip": true},
         "encoding": {
           "x": {"field": "w", "type": "quantitative"},
           "y": {"field": "r", "type": "quantitative"},
           "color": {"field": "s", "type": "nominal", "scale": {"domain": ["g","c","m","o","p"], "range": ["#ffff00","#00ffff","#ff00ff","#ffa500","#670748"]},
                     "legend": {"orient": "none", "legendX": -63, "legendY": 7, "title": null, "symbolType": "stroke", "symbolSize": 3136, "symbolStrokeWidth": 3, "clipHeight": 23,
                                "labelFont": "Liberation Serif", "labelFontSize": 23, "labelFontWeight": "bold", "labelFontStyle": "italic", "labelColor": "black", "labelOffset": 14, "labelLimit": 400,
                                "fillColor": "white", "strokeColor": "black", "padding": 6, "rowPadding": 0, "zindex": 2,
                                "labelExpr": "datum.label=='g' ? 'GGA' : datum.label=='c' ? 'Δ=0.0 eV\u00a0\u00a0\u00a0\u00a0U=5.0 eV' : datum.label=='m' ? 'Δ=0.3 eV\u00a0\u00a0\u00a0\u00a0U=5.0 eV' : datum.label=='o' ? 'Δ=0.6 eV\u00a0\u00a0\u00a0\u00a0U=5.0 eV' : 'Δ=0.6 eV\u00a0\u00a0\u00a0\u00a0U=0.0 eV'"}},
           "strokeDash": {"field": "s", "type": "nominal", "scale": {"domain": ["g","c","m","o","p"], "range": [[7,5],[1,0],[9,5],[9,3,2,3,2,3],[12,4,3,4]]},
                     "legend": {"orient": "none", "legendX": -63, "legendY": 7, "title": null, "symbolType": "stroke", "symbolSize": 3136, "symbolStrokeWidth": 3, "clipHeight": 23,
                                "labelFont": "Liberation Serif", "labelFontSize": 23, "labelFontWeight": "bold", "labelFontStyle": "italic", "labelColor": "black", "labelOffset": 14, "labelLimit": 400,
                                "fillColor": "white", "strokeColor": "black", "padding": 6, "rowPadding": 0, "zindex": 2,
                                "labelExpr": "datum.label=='g' ? 'GGA' : datum.label=='c' ? 'Δ=0.0 eV\u00a0\u00a0\u00a0\u00a0U=5.0 eV' : datum.label=='m' ? 'Δ=0.3 eV\u00a0\u00a0\u00a0\u00a0U=5.0 eV' : datum.label=='o' ? 'Δ=0.6 eV\u00a0\u00a0\u00a0\u00a0U=5.0 eV' : 'Δ=0.6 eV\u00a0\u00a0\u00a0\u00a0U=0.0 eV'"}}
         }}
      ]
    },
    {
      "layer": [
        {"data": {"values": [{"box": 1}]},
         "mark": {"type": "rect", "fill": "white", "stroke": "black", "strokeWidth": 2},
         "encoding": {
           "x": {"datum": -7.14, "type": "quantitative", "scale": {"domain": [-26.65, 27.3], "nice": false, "zero": false},
                 "axis": {"orient": "bottom", "offset": -146, "domain": false, "values": [-6,-4.5,-3,-1.5,0,1.5,3,4.5,6], "format": "d",
                          "labelExpr": "datum.value % 3 == 0 ? replace(datum.label, '\u2212', '-') : ''",
                          "tickSize": {"condition": {"test": "datum.value % 3 == 0", "value": -8}, "value": -5},
                          "labelFontSize": 18, "labelPadding": 9, "title": "ω (eV)", "titleFont": "Liberation Serif", "titleFontSize": 20, "titleFontWeight": "bold", "titleFontStyle": "italic",
                          "titleX": 286, "titleY": 33, "titleBaseline": "middle", "titleAlign": "center"}},
           "x2": {"datum": 7.12},
           "y": {"datum": 0, "type": "quantitative", "scale": {"domain": [-0.639, 0.792], "nice": false, "zero": false},
                 "axis": {"orient": "right", "offset": -217, "domain": false, "values": [0,0.1,0.2,0.3,0.4,0.5,0.6,0.7], "format": ".1f",
                          "labelExpr": "round(datum.value*10) % 2 == 0 ? datum.label : ''",
                          "tickSize": {"condition": {"test": "round(datum.value*10) % 2 == 0", "value": -8}, "value": -5},
                          "labelFontSize": 18, "labelPadding": 7, "title": "ρtotal(ω)", "titleFont": "Liberation Serif", "titleFontSize": 20, "titleFontWeight": "bold", "titleFontStyle": "italic",
                          "titleX": 44, "titleY": 52, "titleAngle": 270, "titleBaseline": "middle", "titleAlign": "center"}},
           "y2": {"datum": 0.783}
         }},
        {"data": {"name": "itot"},
         "transform": [{"filter": "datum.s=='f'"}],
         "mark": {"type": "area", "color": "#dcdcdc"},
         "encoding": {
           "x": {"field": "w", "type": "quantitative"},
           "y": {"field": "v", "type": "quantitative"}
         }},
        {"data": {"name": "itot"},
         "transform": [{"filter": "datum.s!='f'"}],
         "mark": {"type": "line", "strokeWidth": 2.6},
         "encoding": {
           "x": {"field": "w", "type": "quantitative"},
           "y": {"field": "v", "type": "quantitative"},
           "color": {"field": "s", "type": "nominal", "scale": {"domain": ["g","c","m","o","p"], "range": ["#ffff00","#00ffff","#ff00ff","#ffa500","#670748"]}, "legend": null},
           "strokeDash": {"field": "s", "type": "nominal", "scale": {"domain": ["g","c","m","o","p"], "range": [[7,5],[1,0],[9,5],[9,3,2,3,2,3],[12,4,3,4]]}, "legend": null}
         }}
      ]
    }
  ]
}
]
}
